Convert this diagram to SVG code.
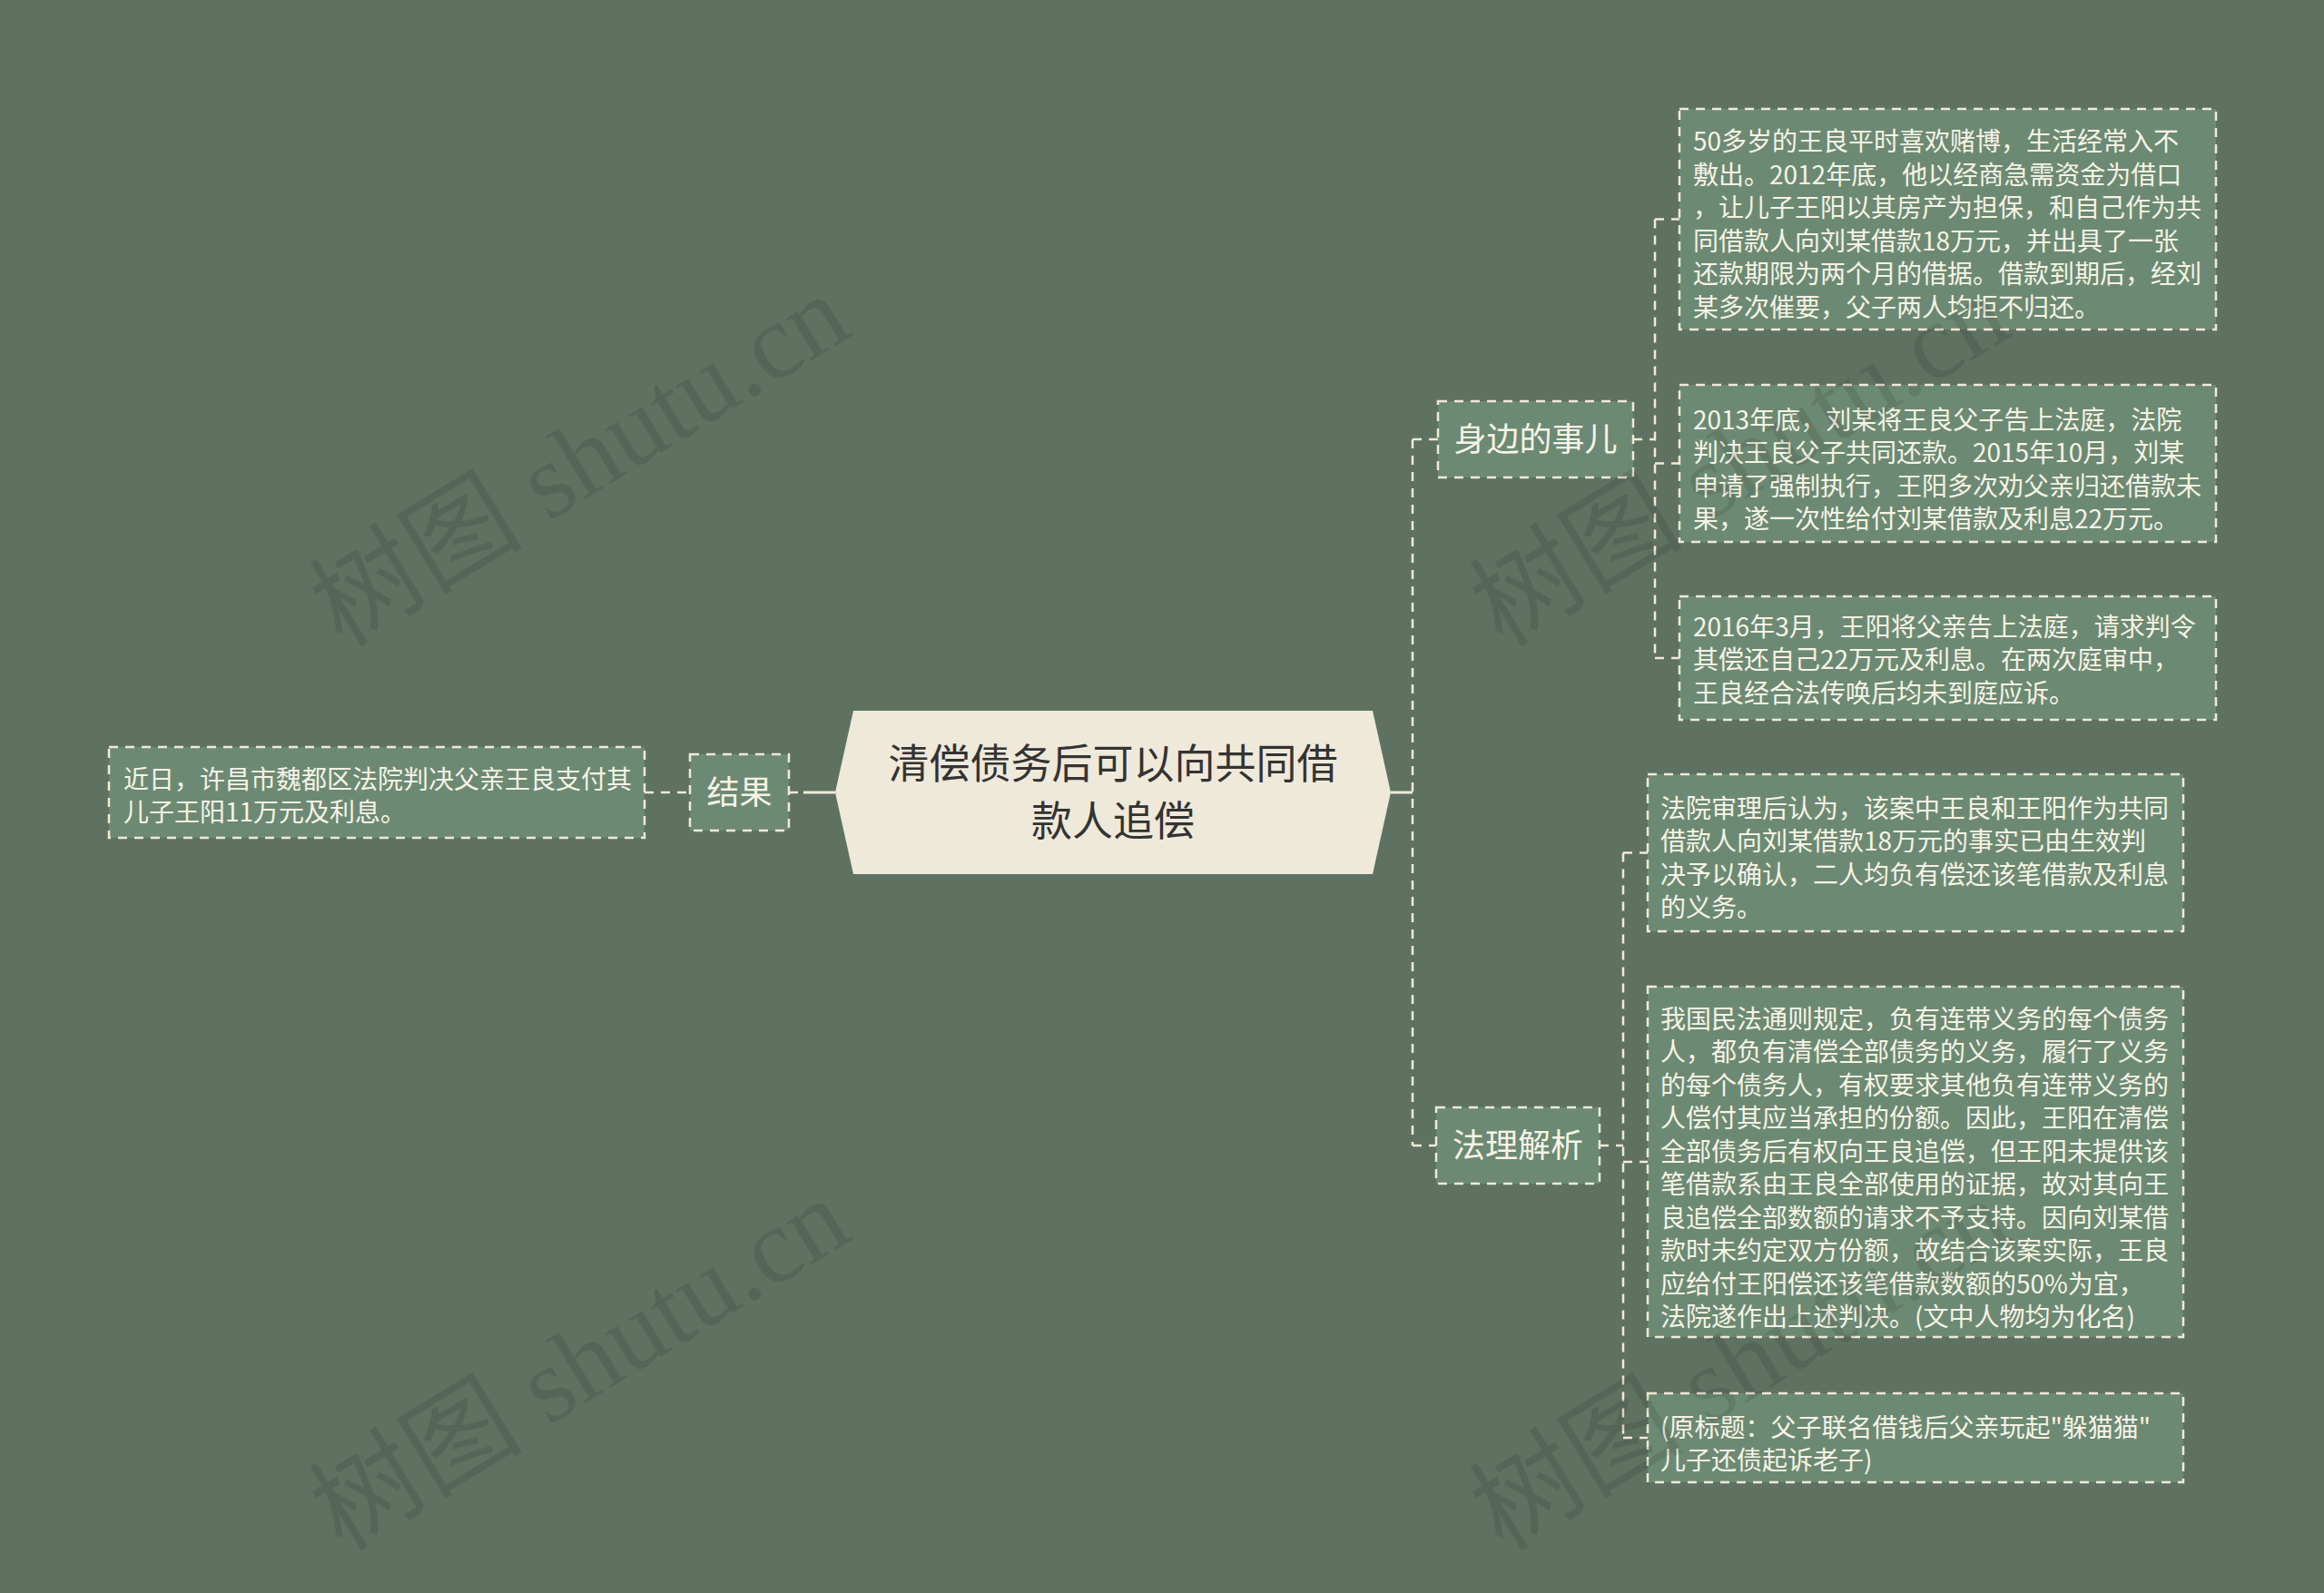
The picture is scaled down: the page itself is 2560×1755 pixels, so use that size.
<svg xmlns="http://www.w3.org/2000/svg" width="2560" height="1755" viewBox="0 0 2560 1755">
<style>
.bg{fill:#5f7262}
.box{fill:#6c8a73;stroke:#f0ead8;stroke-width:2.5;stroke-dasharray:10 8}
.conn{fill:none;stroke:#f0ead8;stroke-width:2.5;stroke-dasharray:10 8}
.solid{fill:none;stroke:#f0ead8;stroke-width:3}
.t{font-family:"Noto Sans CJK SC","Microsoft YaHei",sans-serif;font-size:28px;fill:#f7f3e6}
.lbl{font-family:"Noto Sans CJK SC","Microsoft YaHei",sans-serif;font-size:36px;fill:#f7f3e6;text-anchor:middle}
.ctr{font-family:"Noto Sans CJK SC","Microsoft YaHei",sans-serif;font-size:45px;fill:#333333;text-anchor:middle}
.wm{font-family:"Liberation Serif","Noto Sans CJK SC",serif;font-size:118px;fill:#000000;fill-opacity:0.1}
</style>
<rect class="bg" x="0" y="0" width="2560" height="1755"/>

<g id="connectors">
  <line class="solid" x1="1532" y1="873" x2="1556" y2="873"/>
  <line class="conn" x1="1556" y1="484" x2="1556" y2="1262"/>
  <line class="conn" x1="1556" y1="484" x2="1584" y2="484"/>
  <line class="conn" x1="1556" y1="1262" x2="1582" y2="1262"/>
  <line class="conn" x1="1799" y1="484" x2="1823" y2="484"/>
  <line class="conn" x1="1823" y1="241.5" x2="1823" y2="725"/>
  <line class="conn" x1="1823" y1="241.5" x2="1850" y2="241.5"/>
  <line class="conn" x1="1823" y1="510.5" x2="1850" y2="510.5"/>
  <line class="conn" x1="1823" y1="725" x2="1850" y2="725"/>
  <line class="conn" x1="1762" y1="1262" x2="1788" y2="1262"/>
  <line class="conn" x1="1788" y1="939.5" x2="1788" y2="1584"/>
  <line class="conn" x1="1788" y1="939.5" x2="1815" y2="939.5"/>
  <line class="conn" x1="1788" y1="1280" x2="1815" y2="1280"/>
  <line class="conn" x1="1788" y1="1584" x2="1815" y2="1584"/>
  <line class="conn" x1="710" y1="873" x2="760" y2="873"/>
  <line class="conn" x1="869" y1="873" x2="885" y2="873"/>
  <line class="solid" x1="885" y1="873" x2="920" y2="873"/>
</g>

<g id="center">
  <polygon points="940,783 1512,783 1532,873 1512,963 940,963 920,873" fill="#efe9da"/>
  <text class="ctr" x="1226" y="858">清偿债务后可以向共同借</text>
  <text class="ctr" x="1226" y="921">款人追偿</text>
</g>

<g id="node-shenbian">
  <rect class="box" x="1584" y="442" width="215" height="84"/>
  <text class="lbl" x="1691.5" y="497">身边的事儿</text>
</g>

<g id="node-fali">
  <rect class="box" x="1582" y="1220" width="180" height="84"/>
  <text class="lbl" x="1672" y="1275">法理解析</text>
</g>

<g id="node-jieguo">
  <rect class="box" x="760" y="831" width="109" height="84"/>
  <text class="lbl" x="814.5" y="886">结果</text>
</g>

<g id="node-jieguo-text">
  <rect class="box" x="120" y="823" width="590" height="100"/>
  <text class="t" x="136" y="868.5">近日，许昌市魏都区法院判决父亲王良支付其</text>
  <text class="t" x="136" y="905">儿子王阳11万元及利息。</text>
</g>

<g id="node-s1">
  <rect class="box" x="1850" y="120" width="591" height="243"/>
  <text class="t" x="1865" y="166">50多岁的王良平时喜欢赌博，生活经常入不</text>
  <text class="t" x="1865" y="202.5">敷出。2012年底，他以经商急需资金为借口</text>
  <text class="t" x="1865" y="239">，让儿子王阳以其房产为担保，和自己作为共</text>
  <text class="t" x="1865" y="275.5">同借款人向刘某借款18万元，并出具了一张</text>
  <text class="t" x="1865" y="312">还款期限为两个月的借据。借款到期后，经刘</text>
  <text class="t" x="1865" y="348.5">某多次催要，父子两人均拒不归还。</text>
</g>

<g id="node-s2">
  <rect class="box" x="1850" y="424" width="591" height="173"/>
  <text class="t" x="1865" y="472.5">2013年底，刘某将王良父子告上法庭，法院</text>
  <text class="t" x="1865" y="509">判决王良父子共同还款。2015年10月，刘某</text>
  <text class="t" x="1865" y="545.5">申请了强制执行，王阳多次劝父亲归还借款未</text>
  <text class="t" x="1865" y="582">果，遂一次性给付刘某借款及利息22万元。</text>
</g>

<g id="node-s3">
  <rect class="box" x="1850" y="657" width="591" height="136"/>
  <text class="t" x="1865" y="700.5">2016年3月，王阳将父亲告上法庭，请求判令</text>
  <text class="t" x="1865" y="737">其偿还自己22万元及利息。在两次庭审中，</text>
  <text class="t" x="1865" y="773.5">王良经合法传唤后均未到庭应诉。</text>
</g>

<g id="node-f1">
  <rect class="box" x="1815" y="853" width="590" height="173"/>
  <text class="t" x="1829" y="900.5">法院审理后认为，该案中王良和王阳作为共同</text>
  <text class="t" x="1829" y="937">借款人向刘某借款18万元的事实已由生效判</text>
  <text class="t" x="1829" y="973.5">决予以确认，二人均负有偿还该笔借款及利息</text>
  <text class="t" x="1829" y="1010">的义务。</text>
</g>

<g id="node-f2">
  <rect class="box" x="1815" y="1087" width="590" height="386"/>
  <text class="t" x="1829" y="1132.5">我国民法通则规定，负有连带义务的每个债务</text>
  <text class="t" x="1829" y="1169">人，都负有清偿全部债务的义务，履行了义务</text>
  <text class="t" x="1829" y="1205.5">的每个债务人，有权要求其他负有连带义务的</text>
  <text class="t" x="1829" y="1242">人偿付其应当承担的份额。因此，王阳在清偿</text>
  <text class="t" x="1829" y="1278.5">全部债务后有权向王良追偿，但王阳未提供该</text>
  <text class="t" x="1829" y="1315">笔借款系由王良全部使用的证据，故对其向王</text>
  <text class="t" x="1829" y="1351.5">良追偿全部数额的请求不予支持。因向刘某借</text>
  <text class="t" x="1829" y="1388">款时未约定双方份额，故结合该案实际，王良</text>
  <text class="t" x="1829" y="1424.5">应给付王阳偿还该笔借款数额的50%为宜，</text>
  <text class="t" x="1829" y="1461">法院遂作出上述判决。(文中人物均为化名)</text>
</g>

<g id="node-f3">
  <rect class="box" x="1815" y="1535" width="590" height="98"/>
  <text class="t" x="1829" y="1582.5">(原标题：父子联名借钱后父亲玩起"躲猫猫"</text>
  <text class="t" x="1829" y="1619">儿子还债起诉老子)</text>
</g>

<g id="watermarks">
  <text class="wm" transform="translate(377,714) rotate(-31.5)">树图 shutu.cn</text>
  <text class="wm" transform="translate(1655,714) rotate(-31.5)">树图 shutu.cn</text>
  <text class="wm" transform="translate(377,1710) rotate(-31.5)">树图 shutu.cn</text>
  <text class="wm" transform="translate(1655,1710) rotate(-31.5)">树图 shutu.cn</text>
</g>
</svg>
